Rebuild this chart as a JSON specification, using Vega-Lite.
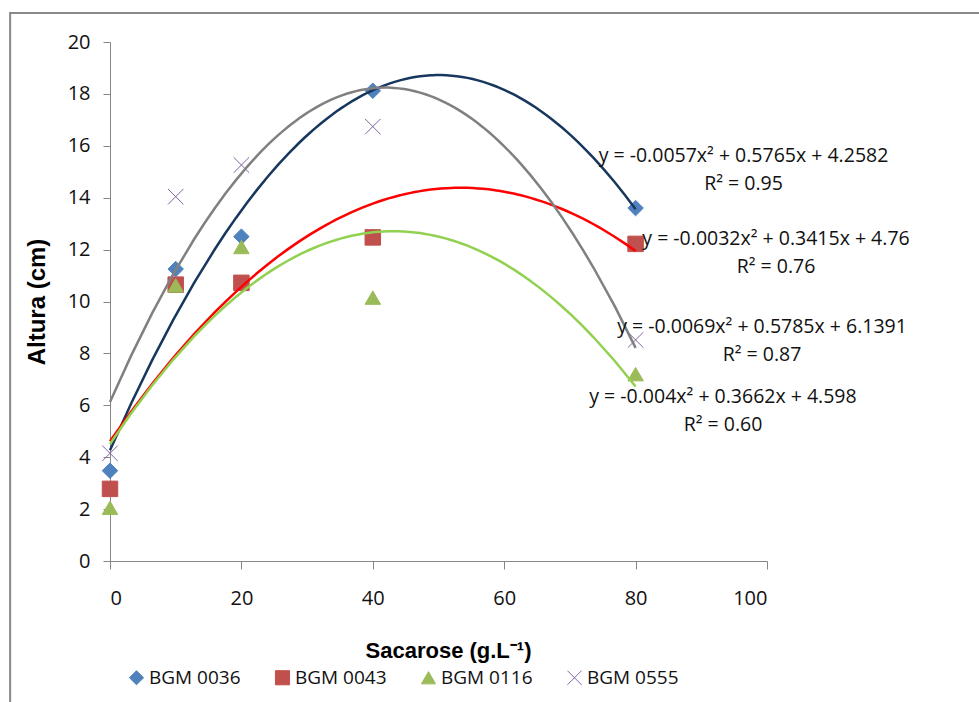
{
  "$schema": "https://vega.github.io/schema/vega-lite/v6.json",
  "autosize": {"type": "none"},
  "width": 657,
  "height": 519,
  "padding": {"left": 110, "top": 42, "right": 212, "bottom": 141},
  "background": "white",
  "config": {
    "view": {"stroke": null},
    "font": "Open Sans"
  },
  "datasets": {
    "points": [
      {"series": "BGM 0036", "sacarose": 0, "altura": 3.48},
      {"series": "BGM 0036", "sacarose": 10, "altura": 11.25},
      {"series": "BGM 0036", "sacarose": 20, "altura": 12.5},
      {"series": "BGM 0036", "sacarose": 40, "altura": 18.12},
      {"series": "BGM 0036", "sacarose": 80, "altura": 13.6},
      {"series": "BGM 0043", "sacarose": 0, "altura": 2.78},
      {"series": "BGM 0043", "sacarose": 10, "altura": 10.65},
      {"series": "BGM 0043", "sacarose": 20, "altura": 10.72},
      {"series": "BGM 0043", "sacarose": 40, "altura": 12.47},
      {"series": "BGM 0043", "sacarose": 80, "altura": 12.22},
      {"series": "BGM 0116", "sacarose": 0, "altura": 2.05},
      {"series": "BGM 0116", "sacarose": 10, "altura": 10.62},
      {"series": "BGM 0116", "sacarose": 20, "altura": 12.1},
      {"series": "BGM 0116", "sacarose": 40, "altura": 10.15},
      {"series": "BGM 0116", "sacarose": 80, "altura": 7.2},
      {"series": "BGM 0555", "sacarose": 0, "altura": 4.15},
      {"series": "BGM 0555", "sacarose": 10, "altura": 14.04},
      {"series": "BGM 0555", "sacarose": 20, "altura": 15.26},
      {"series": "BGM 0555", "sacarose": 40, "altura": 16.74},
      {"series": "BGM 0555", "sacarose": 80, "altura": 8.52}
    ],
    "equations": [
      {"series": "BGM 0036", "label": "y = -0.0057x² + 0.5765x + 4.2582\nR² = 0.95"},
      {"series": "BGM 0043", "label": "y = -0.0032x² + 0.3415x + 4.76\nR² = 0.76"},
      {"series": "BGM 0555", "label": "y = -0.0069x² + 0.5785x + 6.1391\nR² = 0.87"},
      {"series": "BGM 0116", "label": "y = -0.004x² + 0.3662x + 4.598\nR² = 0.60"}
    ],
    "frame": [{"part": "frame"}]
  },
  "resolve": {"scale": {"color": "independent"}},
  "layer": [
    {
      "data": {"name": "frame"},
      "mark": {"type": "rule", "color": "#898989", "strokeWidth": 2},
      "encoding": {
        "x": {"datum": -15.2, "type": "quantitative", "scale": {"domain": [0, 100], "nice": false}},
        "y": {"datum": 21.12, "type": "quantitative", "scale": {"domain": [0, 20], "nice": false}},
        "y2": {"datum": -5.6}
      }
    },
    {
      "data": {"name": "frame"},
      "mark": {"type": "rule", "color": "#898989", "strokeWidth": 2},
      "encoding": {
        "x": {"datum": -15.35, "type": "quantitative"},
        "x2": {"datum": 134},
        "y": {"datum": 21.12, "type": "quantitative"}
      }
    },
    {
      "data": {"name": "points"},
      "mark": {"type": "point", "filled": true, "opacity": 1, "size": 240, "strokeWidth": 1},
      "encoding": {
        "x": {
          "field": "sacarose", "type": "quantitative",
          "scale": {"domain": [0, 100], "nice": false},
          "axis": {
            "values": [0, 20, 40, 60, 80, 100],
            "grid": false,
            "domainColor": "#868686", "tickColor": "#868686",
            "tickSize": 8, "labelPadding": 19,
            "labelFont": "Open Sans", "labelFontSize": 20, "labelColor": "#111111",
            "title": "Sacarose (g.L⁻¹)",
            "titleFont": "Liberation Sans", "titleFontSize": 22, "titleFontWeight": "bold", "titleColor": "#000000",
            "titleX": 338, "titleY": 89, "titleBaseline": "middle", "titleAlign": "center"
          }
        },
        "y": {
          "field": "altura", "type": "quantitative",
          "scale": {"domain": [0, 20], "nice": false},
          "axis": {
            "values": [0, 2, 4, 6, 8, 10, 12, 14, 16, 18, 20],
            "grid": false,
            "domainColor": "#868686", "tickColor": "#868686",
            "tickSize": 7, "labelPadding": 13,
            "labelFont": "Open Sans", "labelFontSize": 20, "labelColor": "#111111",
            "title": "Altura (cm)",
            "titleFont": "Liberation Sans", "titleFontSize": 24, "titleFontWeight": "bold", "titleColor": "#000000",
            "titleAngle": -90, "titleX": -72.5, "titleY": 259.5, "titleBaseline": "middle", "titleAlign": "center"
          }
        },
        "fill": {
          "field": "series", "type": "nominal",
          "scale": {"domain": ["BGM 0036", "BGM 0043", "BGM 0116", "BGM 0555"], "range": ["#4F81BD", "#C0504D", "#9BBB59", "#8064A2"]},
          "legend": {
            "orient": "none", "direction": "horizontal", "columns": 4,
            "legendX": 17, "legendY": 626, "padding": 0,
            "title": null,
            "labelFont": "Open Sans", "labelFontSize": 19, "labelColor": "#111111",
            "labelOffset": 3, "columnPadding": 32, "symbolSize": 200, "symbolStrokeWidth": 1
          }
        },
        "stroke": {
          "field": "series", "type": "nominal",
          "scale": {"domain": ["BGM 0036", "BGM 0043", "BGM 0116", "BGM 0555"], "range": ["#4F81BD", "#C0504D", "#9BBB59", "#8064A2"]},
          "legend": {
            "orient": "none", "direction": "horizontal", "columns": 4,
            "legendX": 17, "legendY": 626, "padding": 0,
            "title": null,
            "labelFont": "Open Sans", "labelFontSize": 19, "labelColor": "#111111",
            "labelOffset": 3, "columnPadding": 32, "symbolSize": 200, "symbolStrokeWidth": 1
          }
        },
        "shape": {
          "field": "series", "type": "nominal",
          "scale": {"domain": ["BGM 0036", "BGM 0043", "BGM 0116", "BGM 0555"], "range": ["diamond", "square", "triangle-up", "M-1,-1L1,1M-1,1L1,-1"]},
          "legend": {
            "orient": "none", "direction": "horizontal", "columns": 4,
            "legendX": 17, "legendY": 626, "padding": 0,
            "title": null,
            "labelFont": "Open Sans", "labelFontSize": 19, "labelColor": "#111111",
            "labelOffset": 3, "columnPadding": 32, "symbolSize": 200, "symbolStrokeWidth": 1
          }
        }
      }
    },
    {
      "data": {"name": "points"},
      "transform": [
        {"regression": "altura", "on": "sacarose", "method": "poly", "order": 2, "groupby": ["series"], "extent": [0, 80]}
      ],
      "mark": {"type": "line", "strokeWidth": 2.5},
      "encoding": {
        "x": {"field": "sacarose", "type": "quantitative"},
        "y": {"field": "altura", "type": "quantitative"},
        "color": {
          "field": "series", "type": "nominal",
          "scale": {"domain": ["BGM 0036", "BGM 0043", "BGM 0116", "BGM 0555"], "range": ["#17375E", "#FF0000", "#92D050", "#808080"]},
          "legend": null
        }
      }
    },
    {
      "data": {"name": "equations"},
      "transform": [{"filter": "datum.series === 'BGM 0036'"}],
      "mark": {"type": "text", "lineBreak": "\n", "align": "center", "baseline": "middle", "font": "Open Sans", "fontSize": 19.5, "lineHeight": 28, "color": "#111111"},
      "encoding": {"text": {"field": "label"}, "x": {"datum": 96.42, "type": "quantitative"}, "y": {"datum": 15.61, "type": "quantitative"}}
    },
    {
      "data": {"name": "equations"},
      "transform": [{"filter": "datum.series === 'BGM 0043'"}],
      "mark": {"type": "text", "lineBreak": "\n", "align": "center", "baseline": "middle", "font": "Open Sans", "fontSize": 19.5, "lineHeight": 28, "color": "#111111"},
      "encoding": {"text": {"field": "label"}, "x": {"datum": 101.37, "type": "quantitative"}, "y": {"datum": 12.39, "type": "quantitative"}}
    },
    {
      "data": {"name": "equations"},
      "transform": [{"filter": "datum.series === 'BGM 0555'"}],
      "mark": {"type": "text", "lineBreak": "\n", "align": "center", "baseline": "middle", "font": "Open Sans", "fontSize": 19.5, "lineHeight": 28, "color": "#111111"},
      "encoding": {"text": {"field": "label"}, "x": {"datum": 99.24, "type": "quantitative"}, "y": {"datum": 9.02, "type": "quantitative"}}
    },
    {
      "data": {"name": "equations"},
      "transform": [{"filter": "datum.series === 'BGM 0116'"}],
      "mark": {"type": "text", "lineBreak": "\n", "align": "center", "baseline": "middle", "font": "Open Sans", "fontSize": 19.5, "lineHeight": 28, "color": "#111111"},
      "encoding": {"text": {"field": "label"}, "x": {"datum": 93.3, "type": "quantitative"}, "y": {"datum": 6.32, "type": "quantitative"}}
    }
  ]
}
